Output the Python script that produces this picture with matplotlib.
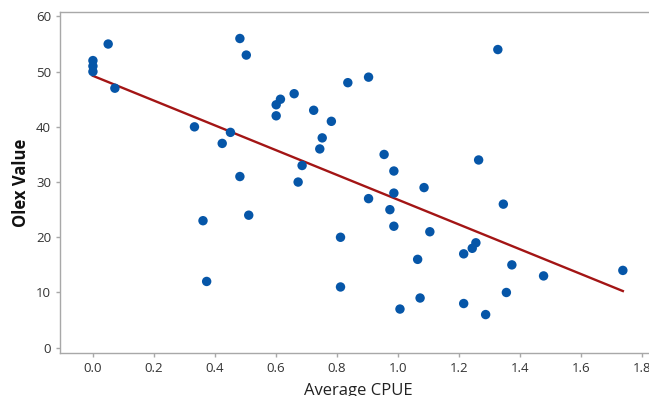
import numpy as np
import matplotlib
matplotlib.use("Agg")
import matplotlib.pyplot as plt

plt.rcParams['font.family'] = ['Open Sans', 'DejaVu Sans']

# average CPUE vs olex value
cpue = [0.0, 0.0, 0.0, 0.05, 0.072, 0.333, 0.424, 0.451, 0.482, 0.503,
        0.482, 0.601, 0.615, 0.601, 0.66, 0.724, 0.782, 0.752, 0.744, 0.686,
        0.673, 0.836, 0.904, 1.328, 0.955, 0.987, 1.265, 1.086, 0.987, 0.904,
        0.361, 0.511, 0.373, 0.974, 0.987, 1.105, 1.346, 0.812, 1.256, 1.244,
        1.216, 1.065, 1.374, 1.738, 1.478, 0.812, 1.356, 1.073, 1.216, 1.007,
        1.288]
olex = [52, 51, 50, 55, 47, 40, 37, 39, 56, 53,
        31, 44, 45, 42, 46, 43, 41, 38, 36, 33,
        30, 48, 49, 54, 35, 32, 34, 29, 28, 27,
        23, 24, 12, 25, 22, 21, 26, 20, 19, 18,
        17, 16, 15, 14, 13, 11, 10, 9, 8, 7,
        6]

x_ticks = [0.0, 0.2, 0.4, 0.6, 0.8, 1.0, 1.2, 1.4, 1.6, 1.8]
y_ticks = [0, 10, 20, 30, 40, 50, 60]

x = np.array(cpue)
y = np.array(olex)
slope, intercept = np.polyfit(x, y, 1)
xf = np.array([x.min(), x.max()])

fig = plt.figure(figsize=(6.49, 3.96), dpi=100)
ax = fig.add_axes([60 / 649, 1 - 353 / 396, 597 / 649, 341 / 396])

ax.plot(xf, intercept + slope * xf, color='#a31515', lw=1.7, zorder=2)
ax.scatter(x, y, s=46, color='#0656a8', edgecolors='none', zorder=3)

ax.set_xlim(-0.108, 1.85)
ax.set_ylim(-0.96, 60.8)
ax.set_xticks(x_ticks)
ax.set_xticklabels([f"{t:.1f}" for t in x_ticks])
ax.set_yticks(y_ticks)

for side in ['left', 'bottom', 'top']:
    ax.spines[side].set_color('#a8a8a8')
    ax.spines[side].set_linewidth(1.0)
ax.spines['right'].set_visible(False)
ax.tick_params(colors='#a8a8a8', labelcolor='#333333', labelsize=9.5, length=3, width=1.0)

ax.set_xlabel('Average CPUE', fontsize=12, color='#222222', labelpad=6)
ax.set_ylabel('Olex Value', fontsize=12, fontweight='bold', color='#111111', labelpad=4)

fig.savefig('out.png', dpi=100)
